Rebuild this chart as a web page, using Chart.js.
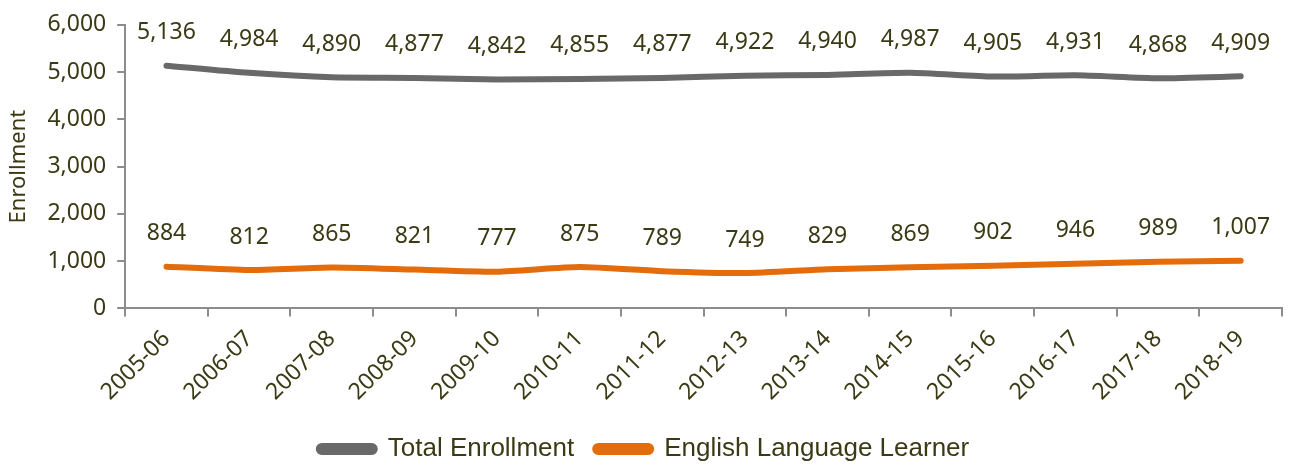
<!DOCTYPE html>
<html>
<head>
<meta charset="utf-8">
<script src="https://cdn.jsdelivr.net/npm/chart.js@4/dist/chart.umd.min.js"></script>
<style>
  html, body { margin: 0; padding: 0; background: #fff; }
  #wrap { width: 1291px; height: 466px; }
</style>
</head>
<body>
<div id="wrap"><canvas id="enrollChart"></canvas></div>
<script>
const years = ["2005-06", "2006-07", "2007-08", "2008-09", "2009-10", "2010-11", "2011-12",
  "2012-13", "2013-14", "2014-15", "2015-16", "2016-17", "2017-18", "2018-19"];
const totalEnrollment = [5136, 4984, 4890, 4877, 4842, 4855, 4877, 4922, 4940, 4987, 4905, 4931, 4868, 4909];
const ellEnrollment = [884, 812, 865, 821, 777, 875, 789, 749, 829, 869, 902, 946, 989, 1007];

const textColor = "#3a3a14";
const axisColor = "#8c8c8c";

// draws the numbers above each point
const pointLabels = {
  id: "pointLabels",
  afterDatasetsDraw(chart) {
    const ctx = chart.ctx;
    ctx.save();
    ctx.font = "23px 'Noto Sans'";
    ctx.fillStyle = textColor;
    ctx.textAlign = "center";
    ctx.textBaseline = "middle";
    chart.data.datasets.forEach((ds, i) => {
      chart.getDatasetMeta(i).data.forEach((pt, j) => {
        ctx.fillText(ds.data[j].toLocaleString("en-US"), pt.x, pt.y - 33);
      });
    });
    ctx.restore();
  },
};

const chartBlock = document.querySelector("#enrollChart").getContext("2d");

new Chart(chartBlock, {
  type: "line",
  data: {
    labels: years,
    datasets: [
      {
        label: "Total Enrollment",
        data: totalEnrollment,
        borderColor: "#696969",
        backgroundColor: "#696969",
        borderWidth: 6,
        borderCapStyle: "round",
        pointRadius: 0,
        tension: 0.2,
      },
      {
        label: "English Language Learner",
        data: ellEnrollment,
        borderColor: "#e46c0a",
        backgroundColor: "#e46c0a",
        borderWidth: 6,
        borderCapStyle: "round",
        pointRadius: 0,
        tension: 0.2,
      },
    ],
  },
  options: {
    responsive: true,
    maintainAspectRatio: false,
    animation: false,
    layout: { padding: { top: 5, right: 9, left: 6, bottom: -6 } },
    plugins: {
      tooltip: { enabled: false },
      legend: {
        position: "bottom",
        labels: {
          color: textColor,
          font: { family: "'Liberation Sans', Arial", size: 26 },
          boxWidth: 56,
          boxHeight: 6,
          useBorderRadius: true,
          borderRadius: 3,
          padding: 21,
        },
      },
    },
    scales: {
      x: {
        offset: true,
        grid: { drawOnChartArea: false, drawTicks: true, tickLength: 8, color: axisColor, lineWidth: 2, offset: true },
        border: { color: axisColor, width: 2 },
        ticks: {
          color: textColor,
          font: { family: "'Noto Sans'", size: 23 },
          minRotation: 45,
          maxRotation: 45,
          padding: 9,
        },
      },
      y: {
        min: 0,
        max: 6000,
        grid: { drawOnChartArea: false, drawTicks: true, tickLength: 8, color: axisColor, lineWidth: 2 },
        border: { color: axisColor, width: 2 },
        ticks: {
          stepSize: 1000,
          color: textColor,
          font: { family: "'Noto Sans'", size: 23 },
          padding: 11,
          callback: (v) => v.toLocaleString("en-US"),
        },
        title: {
          display: true,
          text: "Enrollment",
          color: textColor,
          font: { family: "'Noto Sans'", size: 22 },
          padding: { top: 0, bottom: 4 },
        },
      },
    },
  },
  plugins: [pointLabels],
});
</script>
</body>
</html>
